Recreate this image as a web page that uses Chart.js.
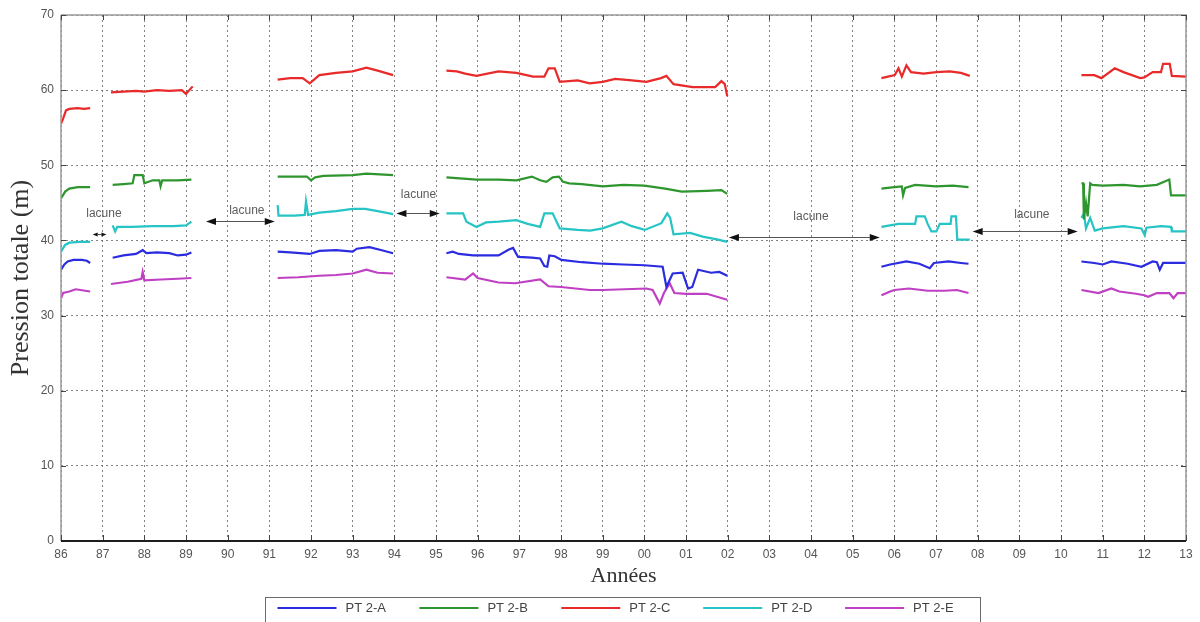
<!DOCTYPE html>
<html>
<head>
<meta charset="utf-8">
<script src="https://cdn.jsdelivr.net/npm/chart.js@4.4.0/dist/chart.umd.min.js"></script>
<style>
  html, body { margin: 0; padding: 0; background: #fff; }
</style>
</head>
<body>
<canvas id="chart" width="1200" height="622"></canvas>
<script>
// Piezometer readings, total head in metres. Each series is a list of
// recording periods; periods are separated by gaps (no data).
var seriesLabels = ['PT 2-A', 'PT 2-B', 'PT 2-C', 'PT 2-D', 'PT 2-E'];
var seriesColors = ['#2b2be0', '#2f962f', '#e82a2a', '#26c4c4', '#c040c4'];

var pt2A = [
  [[1986.0, 36.1], [1986.08, 36.8], [1986.16, 37.2], [1986.3, 37.4], [1986.5, 37.4], [1986.62, 37.3], [1986.7, 37.0]],
  [[1987.24, 37.7], [1987.5, 38.0], [1987.8, 38.2], [1987.96, 38.7], [1988.05, 38.3], [1988.3, 38.4], [1988.6, 38.3], [1988.8, 38.0], [1989.0, 38.1], [1989.13, 38.4]],
  [[1991.2, 38.5], [1991.5, 38.4], [1991.97, 38.2], [1992.2, 38.6], [1992.6, 38.7], [1993.0, 38.5], [1993.1, 38.9], [1993.4, 39.1], [1993.7, 38.7], [1993.97, 38.3]],
  [[1995.25, 38.3], [1995.4, 38.5], [1995.55, 38.2], [1995.89, 38.0], [1996.5, 38.0], [1996.75, 38.8], [1996.85, 39.0], [1996.97, 37.8], [1997.3, 37.7], [1997.5, 37.6], [1997.6, 36.6], [1997.67, 36.5], [1997.72, 38.0], [1997.85, 37.9], [1998.01, 37.4], [1998.5, 37.1], [1999.0, 36.9], [1999.5, 36.8], [2000.0, 36.7], [2000.44, 36.5], [2000.53, 33.8], [2000.68, 35.6], [2000.92, 35.7], [2001.05, 33.6], [2001.15, 33.8], [2001.29, 36.1], [2001.6, 35.7], [2001.8, 35.8], [2001.99, 35.3]],
  [[2005.69, 36.5], [2005.9, 36.8], [2006.29, 37.2], [2006.6, 36.9], [2006.85, 36.3], [2006.95, 37.0], [2007.3, 37.2], [2007.6, 37.0], [2007.78, 36.9]],
  [[2010.49, 37.2], [2010.8, 37.0], [2011.0, 36.8], [2011.21, 37.2], [2011.6, 36.9], [2011.93, 36.5], [2012.2, 37.2], [2012.3, 37.1], [2012.37, 36.1], [2012.45, 37.0], [2012.7, 37.0], [2013.0, 37.0]]
];

var pt2B = [
  [[1986.0, 45.6], [1986.1, 46.5], [1986.2, 46.9], [1986.4, 47.1], [1986.7, 47.1]],
  [[1987.24, 47.4], [1987.5, 47.5], [1987.72, 47.6], [1987.76, 48.7], [1987.96, 48.7], [1988.0, 47.6], [1988.2, 48.0], [1988.36, 48.0], [1988.39, 47.2], [1988.43, 48.0], [1988.8, 48.0], [1989.13, 48.1]],
  [[1991.2, 48.5], [1991.9, 48.5], [1992.0, 48.0], [1992.1, 48.4], [1992.3, 48.6], [1993.0, 48.7], [1993.33, 48.9], [1993.97, 48.7]],
  [[1995.25, 48.4], [1995.97, 48.1], [1996.5, 48.1], [1996.93, 48.0], [1997.3, 48.5], [1997.5, 48.0], [1997.65, 47.8], [1997.8, 48.4], [1997.95, 48.5], [1998.05, 47.8], [1998.2, 47.6], [1998.5, 47.5], [1999.0, 47.2], [1999.5, 47.4], [2000.0, 47.3], [2000.5, 46.9], [2000.9, 46.5], [2001.5, 46.6], [2001.85, 46.7], [2001.99, 46.2]],
  [[2005.69, 46.9], [2006.0, 47.1], [2006.18, 47.2], [2006.21, 46.0], [2006.26, 47.0], [2006.5, 47.4], [2007.0, 47.2], [2007.4, 47.3], [2007.78, 47.1]],
  [[2010.49, 47.6], [2010.53, 47.6], [2010.55, 42.8], [2010.6, 45.0], [2010.64, 43.2], [2010.7, 47.6], [2010.75, 47.4], [2011.0, 47.3], [2011.5, 47.4], [2011.9, 47.2], [2012.3, 47.4], [2012.6, 48.1], [2012.64, 46.0], [2013.0, 46.0]]
];

var pt2C = [
  [[1986.0, 55.5], [1986.05, 56.2], [1986.12, 57.3], [1986.2, 57.5], [1986.4, 57.6], [1986.55, 57.5], [1986.7, 57.6]],
  [[1987.2, 59.7], [1987.5, 59.8], [1987.8, 59.9], [1988.0, 59.8], [1988.3, 60.0], [1988.6, 59.9], [1988.9, 60.0], [1989.0, 59.5], [1989.08, 60.0], [1989.16, 60.5]],
  [[1991.2, 61.4], [1991.5, 61.6], [1991.8, 61.6], [1991.97, 60.9], [1992.2, 62.0], [1992.6, 62.3], [1993.0, 62.5], [1993.33, 63.0], [1993.6, 62.6], [1993.97, 62.0]],
  [[1995.25, 62.6], [1995.5, 62.5], [1995.7, 62.2], [1995.97, 61.9], [1996.5, 62.5], [1996.93, 62.3], [1997.33, 61.8], [1997.6, 61.8], [1997.7, 62.9], [1997.85, 62.9], [1997.97, 61.1], [1998.4, 61.3], [1998.69, 60.9], [1999.0, 61.1], [1999.3, 61.5], [1999.7, 61.3], [2000.05, 61.1], [2000.4, 61.6], [2000.53, 61.9], [2000.7, 60.8], [2001.16, 60.4], [2001.7, 60.4], [2001.85, 61.2], [2001.93, 60.8], [2001.99, 59.2]],
  [[2005.69, 61.6], [2006.01, 62.0], [2006.1, 62.9], [2006.18, 61.8], [2006.29, 63.3], [2006.4, 62.4], [2006.7, 62.2], [2007.01, 62.4], [2007.33, 62.5], [2007.6, 62.3], [2007.81, 61.9]],
  [[2010.49, 62.0], [2010.8, 62.0], [2010.97, 61.6], [2011.29, 62.9], [2011.5, 62.4], [2011.9, 61.6], [2012.0, 61.7], [2012.2, 62.4], [2012.4, 62.4], [2012.45, 63.5], [2012.61, 63.5], [2012.66, 61.9], [2013.0, 61.8]]
];

var pt2D = [
  [[1986.0, 38.5], [1986.1, 39.4], [1986.2, 39.7], [1986.45, 39.8], [1986.7, 39.8]],
  [[1987.24, 42.0], [1987.3, 41.2], [1987.35, 41.8], [1987.7, 41.8], [1988.2, 41.9], [1988.7, 41.9], [1989.0, 42.0], [1989.13, 42.5]],
  [[1991.2, 44.7], [1991.22, 43.3], [1991.6, 43.3], [1991.85, 43.4], [1991.88, 45.2], [1991.93, 43.4], [1992.2, 43.7], [1992.6, 43.9], [1993.0, 44.2], [1993.3, 44.2], [1993.6, 43.9], [1993.97, 43.5]],
  [[1995.25, 43.6], [1995.65, 43.6], [1995.73, 42.5], [1995.97, 41.8], [1996.2, 42.4], [1996.5, 42.5], [1996.93, 42.7], [1997.2, 42.2], [1997.5, 41.8], [1997.6, 43.6], [1997.8, 43.6], [1997.97, 41.6], [1998.4, 41.4], [1998.7, 41.3], [1999.0, 41.6], [1999.45, 42.5], [1999.7, 41.9], [2000.01, 41.4], [2000.41, 42.3], [2000.55, 43.6], [2000.62, 43.0], [2000.7, 40.8], [2001.1, 41.0], [2001.4, 40.5], [2001.77, 40.1], [2001.99, 39.8]],
  [[2005.69, 41.8], [2006.1, 42.2], [2006.5, 42.2], [2006.53, 43.2], [2006.73, 43.2], [2006.8, 42.2], [2006.89, 41.2], [2007.01, 41.2], [2007.09, 42.2], [2007.35, 42.2], [2007.37, 43.2], [2007.48, 43.2], [2007.51, 40.1], [2007.81, 40.1]],
  [[2010.49, 43.0], [2010.55, 43.6], [2010.6, 41.6], [2010.7, 43.0], [2010.81, 41.3], [2011.0, 41.6], [2011.5, 41.9], [2011.93, 41.6], [2012.01, 40.7], [2012.05, 41.7], [2012.4, 41.9], [2012.64, 41.8], [2012.66, 41.2], [2013.0, 41.2]]
];

var pt2E = [
  [[1986.0, 32.3], [1986.05, 33.0], [1986.2, 33.2], [1986.35, 33.5], [1986.7, 33.2]],
  [[1987.2, 34.2], [1987.6, 34.5], [1987.93, 34.9], [1987.96, 35.8], [1988.0, 34.7], [1988.4, 34.8], [1988.8, 34.9], [1989.13, 35.0]],
  [[1991.2, 35.0], [1991.7, 35.1], [1992.2, 35.3], [1992.6, 35.4], [1993.0, 35.6], [1993.33, 36.1], [1993.6, 35.7], [1993.97, 35.6]],
  [[1995.25, 35.1], [1995.7, 34.8], [1995.89, 35.6], [1996.0, 35.0], [1996.5, 34.4], [1996.9, 34.3], [1997.5, 34.8], [1997.7, 33.9], [1998.0, 33.8], [1998.69, 33.4], [1999.0, 33.4], [2000.05, 33.6], [2000.2, 33.4], [2000.37, 31.6], [2000.47, 33.0], [2000.61, 34.3], [2000.72, 33.0], [2001.0, 32.9], [2001.5, 32.9], [2001.99, 32.1]],
  [[2005.69, 32.7], [2005.9, 33.2], [2006.0, 33.4], [2006.35, 33.6], [2006.8, 33.3], [2007.2, 33.3], [2007.5, 33.4], [2007.78, 33.0]],
  [[2010.49, 33.4], [2010.9, 33.0], [2011.21, 33.6], [2011.4, 33.2], [2011.8, 32.9], [2012.0, 32.7], [2012.09, 32.5], [2012.3, 33.0], [2012.6, 33.0], [2012.7, 32.3], [2012.8, 33.0], [2013.0, 33.0]]
];

// "lacune" (missing data) markers: double arrow [from, to, level] and label [x, level]
var lacuneArrows = [[1986.76, 1987.09, 40.9], [1989.48, 1991.13, 42.6], [1994.05, 1995.09, 43.65], [2002.03, 2005.65, 40.45], [2007.88, 2010.4, 41.3]];
var lacuneLabels = [[1987.03, 43.6], [1990.46, 43.9], [1994.58, 46.05], [2004.0, 43.1], [2009.3, 43.4]];

var yearMin = 1986, yearMax = 2013;

// flatten recording periods into one point list, with a null between periods
function toPoints(periods) {
  var pts = [];
  periods.forEach(function (seg, i) {
    if (i > 0) {
      var prev = periods[i - 1];
      pts.push({ x: (prev[prev.length - 1][0] + seg[0][0]) / 2, y: null });
    }
    seg.forEach(function (p) { pts.push({ x: p[0], y: p[1] }); });
  });
  return pts;
}

var allSeries = [pt2A, pt2B, pt2C, pt2D, pt2E];
var datasets = allSeries.map(function (s, i) {
  return {
    label: seriesLabels[i],
    data: toPoints(s),
    borderColor: seriesColors[i],
    backgroundColor: seriesColors[i],
    borderWidth: 2.2,
    pointRadius: 0,
    tension: 0,
    spanGaps: false,
    fill: false
  };
});

function arrowHead(ctx, x, y, dir, len, half) {
  ctx.beginPath();
  ctx.moveTo(x, y);
  ctx.lineTo(x + dir * len, y - half);
  ctx.lineTo(x + dir * len, y + half);
  ctx.closePath();
  ctx.fill();
}

// plot frame with inward tick marks
var framePlugin = {
  id: 'frame',
  afterDatasetsDraw: function (chart) {
    var ctx = chart.ctx, a = chart.chartArea;
    var xs = chart.scales.x, ys = chart.scales.y;
    ctx.save();
    ctx.strokeStyle = '#9a9a9a';
    ctx.lineWidth = 1.5;
    ctx.beginPath();
    ctx.moveTo(a.left, a.top); ctx.lineTo(a.right, a.top); ctx.lineTo(a.right, a.bottom);
    ctx.moveTo(a.left, a.top); ctx.lineTo(a.left, a.bottom);
    ctx.stroke();
    ctx.strokeStyle = '#444';
    ctx.lineWidth = 1;
    ctx.beginPath();
    for (var yr = yearMin; yr <= yearMax; yr++) {
      var px = Math.round(xs.getPixelForValue(yr)) + 0.5;
      ctx.moveTo(px, a.bottom); ctx.lineTo(px, a.bottom - 6);
      ctx.moveTo(px, a.top); ctx.lineTo(px, a.top + 5);
    }
    for (var v = 0; v <= 70; v += 10) {
      var py = Math.round(ys.getPixelForValue(v)) + 0.5;
      ctx.moveTo(a.left, py); ctx.lineTo(a.left + 5, py);
      ctx.moveTo(a.right, py); ctx.lineTo(a.right - 5, py);
    }
    ctx.stroke();
    ctx.strokeStyle = '#1e1e1e';
    ctx.lineWidth = 2;
    ctx.beginPath();
    ctx.moveTo(a.left, a.bottom); ctx.lineTo(a.right, a.bottom);
    ctx.stroke();
    ctx.restore();
  }
};

// "lacune" labels and double arrows
var lacunePlugin = {
  id: 'lacune',
  afterDatasetsDraw: function (chart) {
    var ctx = chart.ctx, xs = chart.scales.x, ys = chart.scales.y;
    ctx.save();
    lacuneArrows.forEach(function (ar) {
      var x1 = xs.getPixelForValue(ar[0]), x2 = xs.getPixelForValue(ar[1]);
      var y = Math.round(ys.getPixelForValue(ar[2])) + 0.5;
      var small = (x2 - x1) < 30;
      var len = small ? 5 : 10, half = small ? 2 : 3.5;
      ctx.strokeStyle = '#555';
      ctx.lineWidth = 1;
      ctx.beginPath(); ctx.moveTo(x1 + len, y); ctx.lineTo(x2 - len, y); ctx.stroke();
      ctx.fillStyle = '#111';
      arrowHead(ctx, x1, y, 1, len, half);
      arrowHead(ctx, x2, y, -1, len, half);
    });
    ctx.fillStyle = '#5c5c5c';
    ctx.font = '12px "Liberation Sans", Arial, sans-serif';
    ctx.textAlign = 'center';
    ctx.textBaseline = 'middle';
    lacuneLabels.forEach(function (lb) {
      ctx.fillText('lacune', xs.getPixelForValue(lb[0]), ys.getPixelForValue(lb[1]));
    });
    ctx.restore();
  }
};

// boxed legend under the axis title
var legendBoxPlugin = {
  id: 'legendBox',
  afterDraw: function (chart) {
    var ctx = chart.ctx;
    var boxLeft = 265.5, boxTop = 597.5, boxRight = 980.5;
    ctx.save();
    ctx.strokeStyle = '#6a6a6a';
    ctx.lineWidth = 1;
    ctx.strokeRect(boxLeft, boxTop, boxRight - boxLeft, 40);
    ctx.font = '13px "Liberation Sans", Arial, sans-serif';
    ctx.textBaseline = 'middle';
    ctx.textAlign = 'left';
    chart.data.datasets.forEach(function (ds, i) {
      var x0 = 277.5 + i * 141.9;
      ctx.strokeStyle = ds.borderColor;
      ctx.lineWidth = 2;
      ctx.beginPath(); ctx.moveTo(x0, 608); ctx.lineTo(x0 + 59, 608); ctx.stroke();
      ctx.fillStyle = '#444';
      ctx.fillText(ds.label, x0 + 68, 608);
    });
    ctx.restore();
  }
};

var ctx = document.getElementById('chart').getContext('2d');
new Chart(ctx, {
  type: 'line',
  data: { datasets: datasets },
  options: {
    responsive: false,
    animation: false,
    layout: { padding: { left: 0, right: 14, top: 15, bottom: 32 } },
    plugins: {
      legend: { display: false },
      tooltip: { enabled: false }
    },
    scales: {
      x: {
        type: 'linear',
        min: yearMin,
        max: yearMax,
        afterFit: function (scale) { scale.height = 49; },
        ticks: {
          stepSize: 1,
          autoSkip: false,
          maxRotation: 0,
          padding: 6,
          color: '#555',
          font: { family: '"Liberation Sans", Arial, sans-serif', size: 12 },
          callback: function (v) { return String(v % 100).padStart(2, '0'); }
        },
        grid: { color: 'rgba(90,90,90,0.75)', lineWidth: 1, drawTicks: false },
        border: { display: false, dash: [2, 3] },
        title: {
          display: true,
          text: 'Années',
          color: '#333',
          font: { family: '"Liberation Serif", "Times New Roman", serif', size: 22 },
          padding: { top: 0, bottom: 1 }
        }
      },
      y: {
        min: 0,
        max: 70,
        afterFit: function (scale) { scale.width = 61; },
        ticks: {
          stepSize: 10,
          padding: 7,
          color: '#555',
          font: { family: '"Liberation Sans", Arial, sans-serif', size: 12 }
        },
        grid: { color: 'rgba(90,90,90,0.75)', lineWidth: 1, drawTicks: false },
        border: { display: false, dash: [2, 3] },
        title: {
          display: true,
          text: 'Pression totale (m)',
          color: '#333',
          font: { family: '"Liberation Serif", "Times New Roman", serif', size: 26 },
          padding: { top: 6, bottom: 0 }
        }
      }
    }
  },
  plugins: [framePlugin, lacunePlugin, legendBoxPlugin]
});
</script>
</body>
</html>
